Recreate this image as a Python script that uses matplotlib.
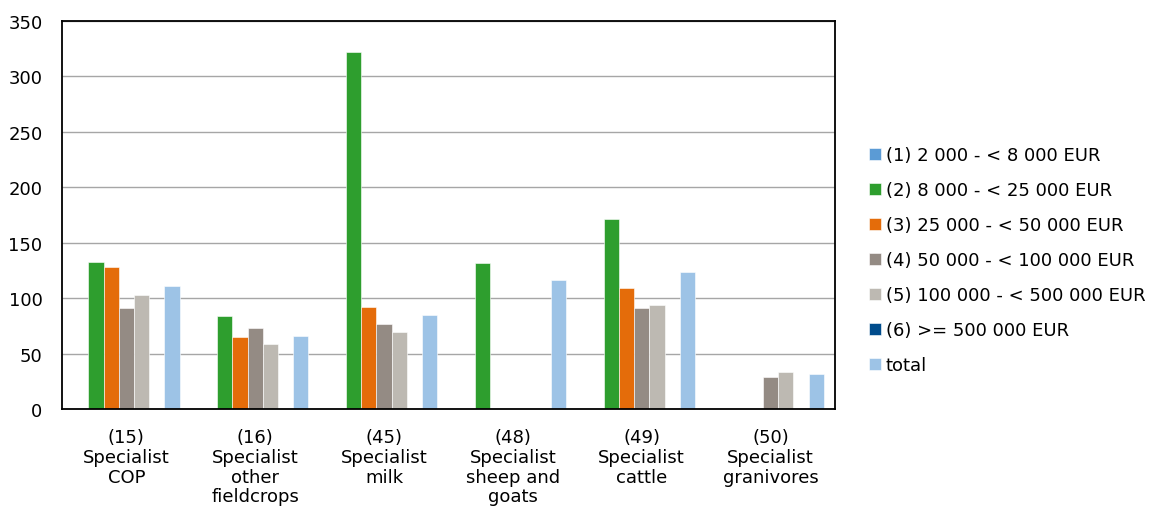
import matplotlib
matplotlib.use('Agg')
import matplotlib.pyplot as plt
import numpy as np

# %%
categories = ['(15)\nSpecialist\nCOP', '(16)\nSpecialist\nother\nfieldcrops',
              '(45)\nSpecialist\nmilk', '(48)\nSpecialist\nsheep and\ngoats',
              '(49)\nSpecialist\ncattle', '(50)\nSpecialist\ngranivores']
series_names = ['(1) 2 000 - < 8 000 EUR', '(2) 8 000 - < 25 000 EUR',
                '(3) 25 000 - < 50 000 EUR', '(4) 50 000 - < 100 000 EUR',
                '(5) 100 000 - < 500 000 EUR', '(6) >= 500 000 EUR', 'total']
nan = np.nan
s1 = [nan, nan, nan, nan, nan, nan]
s2 = [133, 84, 322, 132, 171, nan]
s3 = [128, 65, 92, nan, 109, nan]
s4 = [91, 73, 77, nan, 91, 29]
s5 = [103, 59, 69.5, nan, 94, 33.5]
s6 = [nan, nan, nan, nan, nan, nan]
total = [111, 66, 85, 116, 124, 32]
colors = ['#5B9BD5', '#2E9E2E', '#E46C0A', '#948B84', '#BDB9B2', '#004C8C', '#9DC3E6']

# %%
plt.rcParams['font.family'] = ['DejaVu Sans']

fig = plt.figure(figsize=(11.56, 5.10), dpi=100)
ax = fig.add_axes([62 / 1156, 1 - 410 / 510, (835 - 62) / 1156, (410 - 22) / 510])

x = np.arange(len(categories))
w = 0.118
data = [s1, s2, s3, s4, s5, s6, total]
handles = []
for i, (vals, c, n) in enumerate(zip(data, colors, series_names)):
    b = ax.bar(x + (i - 3) * w, vals, w, color=c, label=n,
               edgecolor='white', linewidth=0.4)
    handles.append(b)

ax.set_xlim(-0.5, len(categories) - 0.5)
ax.set_ylim(0, 350)
ax.set_yticks(np.arange(0, 351, 50))
ax.yaxis.grid(True, color='#A6A6A6', lw=1)
ax.set_axisbelow(True)
for sp in ax.spines.values():
    sp.set_color('black')
    sp.set_linewidth(1.3)
ax.tick_params(axis='both', length=0)
ax.tick_params(axis='y', labelsize=13, pad=14)
ax.set_xticks(x)
ax.set_xticklabels(categories, fontsize=13, linespacing=1.12)
ax.tick_params(axis='x', pad=14)

ax.legend(handles, series_names, loc='center left', bbox_to_anchor=(1.035, 0.384),
          frameon=False, fontsize=13, handlelength=0.65, handleheight=0.65,
          handletextpad=0.25, labelspacing=0.94, borderaxespad=0)

plt.savefig('out.png', dpi=100)
